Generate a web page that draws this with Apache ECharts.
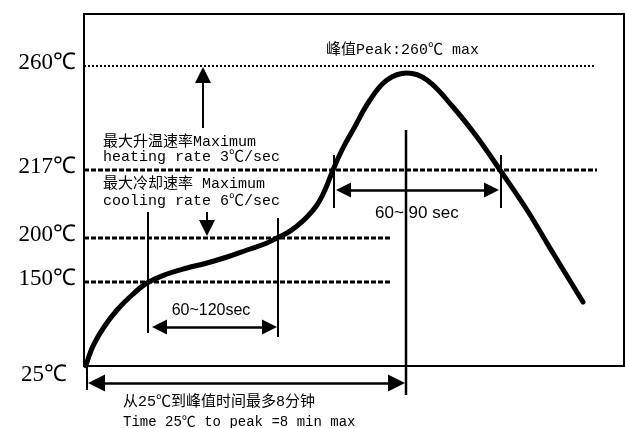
<!DOCTYPE html>
<html><head><meta charset="utf-8">
<script src="https://cdn.jsdelivr.net/npm/echarts@6/dist/echarts.min.js"></script>
<style>html,body{margin:0;padding:0;background:#fff}#c{width:625px;height:428px}</style>
</head><body><div id="c"></div>
<script>
// Schematic reflow profile (axis units are schematic positions, not linear temperature/time)
const tempLabels = ['25℃', '150℃', '200℃', '217℃', '260℃'];
const tempLevels = [0, 84, 128, 196, 300];
const levelEnds  = [null, 308, 308, 513, 511];

const profileX = [2, 5, 10, 20, 33, 48, 63, 83, 103, 123, 143, 163, 183, 193, 203, 213, 223, 233, 241, 249, 258, 269, 286, 303, 323, 343, 369, 393, 416, 443, 469, 499];
const profileY = [0, 10, 22, 39, 56, 71, 83, 92, 98, 103, 109, 116, 123, 128, 133, 140, 149, 161, 176, 196, 216, 236, 266, 286, 293, 286, 259, 229, 196, 156, 113, 64];

// vertical marker lines
const markerX      = [3, 64, 194, 250, 417, 322];
const markerTop    = [0, 154, 148, 211, 211, 236];
const markerBottom = [-24, 33, 29, 158, 158, -29];

// double-headed span arrows (line ends at arrow-head centres)
const spanFromX = [75.5, 259.5, 12.5];
const spanToX   = [185.5, 407.5, 312.5];
const spanY     = [39, 176, -17];
const spanText  = ['60~120sec', '60~ 90 sec'];

// single-headed rate arrows (x, start y, arrow-head centre y)
const rateX     = [119, 123];
const rateFromY = [238, 154];
const rateToY   = [291, 138];

const notes = [
  '峰值Peak:260℃ max',
  '最大升温速率Maximum', 'heating rate 3℃/sec',
  '最大冷却速率 Maximum', 'cooling rate 6℃/sec',
  '从25℃到峰值时间最多8分钟', 'Time 25℃ to peak =8 min max'
];

const chart = echarts.init(document.getElementById('c'));
const mono = "'Liberation Mono','Noto Sans CJK SC',monospace";
const series = [];

// dotted level lines
tempLevels.forEach((lv, i) => {
  if (levelEnds[i] == null) return;
  const top = i === 4;
  series.push({
    type: 'line', data: [[0, lv], [levelEnds[i], lv]], symbol: 'none', silent: true,
    lineStyle: { color: '#000', width: top ? 2 : 3, type: top ? [2, 2] : [5, 2] }, z: 2
  });
});

// marker verticals
markerX.forEach((x, i) => {
  series.push({
    type: 'line', data: [[x, markerBottom[i]], [x, markerTop[i]]], symbol: 'none', clip: false, silent: true,
    lineStyle: { color: '#000', width: i === 5 ? 2.5 : 2 }, z: 3
  });
});

// profile curve
series.push({
  type: 'line', data: profileX.map((x, i) => [x, profileY[i]]), smooth: 0.4, symbol: 'none', silent: true,
  lineStyle: { color: '#000', width: 5, cap: 'round', join: 'round' }, z: 5
});

// span arrows
const spanSizes = [[15, 15], [15, 15], [17, 17]];
series.push({
  type: 'lines', coordinateSystem: 'cartesian2d', clip: false, silent: true, z: 4,
  symbol: ['triangle', 'triangle'],
  lineStyle: { color: '#000', width: 2.5, opacity: 1, curveness: 0 },
  data: spanFromX.map((x, i) => ({ coords: [[x, spanY[i]], [spanToX[i], spanY[i]]], symbolSize: spanSizes[i] }))
});

// rate arrows
series.push({
  type: 'lines', coordinateSystem: 'cartesian2d', clip: false, silent: true, z: 4,
  symbol: ['none', 'triangle'], symbolSize: [18, 16],
  lineStyle: { color: '#000', width: 2, opacity: 1, curveness: 0 },
  data: rateX.map((x, i) => ({ coords: [[x, rateFromY[i]], [x, rateToY[i]]] }))
});

const txt = (s, x, y, font, align) => ({
  type: 'text', x: x, y: y, z: 10, silent: true,
  style: { text: s, font: font, fill: '#000', align: align || 'left', verticalAlign: 'middle' }
});

chart.setOption({
  animation: false,
  backgroundColor: '#fff',
  grid: { left: 84, top: 14, right: 1, bottom: 62, show: true, borderColor: '#000', borderWidth: 2, containLabel: false },
  xAxis: { type: 'value', min: 0, max: 540, show: false },
  yAxis: {
    type: 'value', min: 0, max: 352,
    axisLine: { show: false }, axisTick: { show: false }, splitLine: { show: false },
    axisLabel: {
      customValues: tempLevels, margin: 8,
      formatter: v => {
        const i = tempLevels.indexOf(v);
        if (i < 0) return '';
        return i === 0 ? '{low|' + tempLabels[i] + '}' : '{up|' + tempLabels[i] + '}';
      },
      rich: {
        up: { fontFamily: "'Liberation Serif',serif", fontSize: 23, color: '#000', padding: [0, 0, 7, 0] },
        low: { fontFamily: "'Liberation Serif',serif", fontSize: 23, color: '#000', padding: [18, 9, 0, 0] }
      }
    }
  },
  series: series,
  graphic: [
    txt(notes[0], 326, 50, '15px ' + mono),
    txt(notes[1], 103, 142, '15px ' + mono),
    txt(notes[2], 103, 157, '15px ' + mono),
    txt(notes[3], 103, 184, '15px ' + mono),
    txt(notes[4], 103, 201, '15px ' + mono),
    txt(spanText[0], 211, 311, "16px 'Liberation Sans',Arial,sans-serif", 'center'),
    txt(spanText[1], 375, 213, "17px 'Liberation Sans',Arial,sans-serif"),
    txt(notes[5], 123, 402, '15px ' + mono),
    txt(notes[6], 123, 422, '14px ' + mono)
  ]
});
</script></body></html>
